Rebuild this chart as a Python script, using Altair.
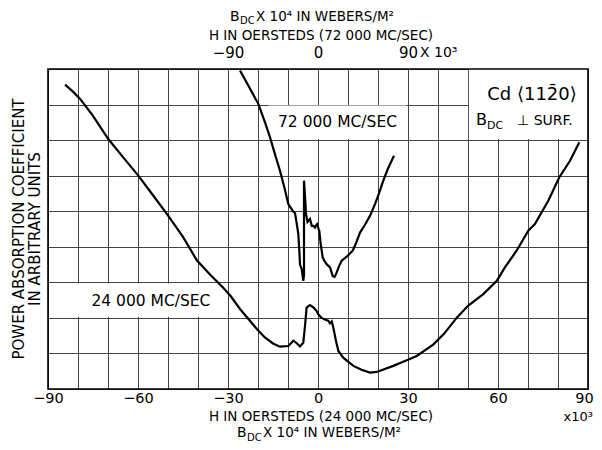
import altair as alt
import pandas as pd

FONT = "DejaVu Sans"

# 24 000 MC/SEC curve: H (10^3 oersteds, bottom scale) and absorption (grid units)
h24 = [-84.3, -81.5, -79.3, -75.0, -69.9, -65.0, -59.9, -55.0, -49.9, -45.0, -40.4, -36.0,
       -31.6, -29.0, -26.0, -22.7, -20.0, -17.7, -15.0, -12.7, -9.9, -8.2, -7.0, -6.0, -4.9,
       -4.3, -3.8, -2.7, -1.6, -0.5, 0.1, 1.2, 2.5, 3.4, 4.0, 4.6, 5.1, 6.0, 6.8, 8.4, 11.8,
       14.5, 17.3, 19.6, 25.1, 30.0, 32.9, 38.4, 42.0, 46.2, 50.0, 55.1, 59.6, 62.3, 66.2,
       70.1, 72.3, 76.8, 80.4, 84.0, 87.1]
p24 = [8.56, 8.35, 8.16, 7.68, 7.03, 6.52, 6.00, 5.45, 4.87, 4.28, 3.62, 3.22,
       2.85, 2.60, 2.25, 1.92, 1.65, 1.45, 1.28, 1.19, 1.21, 1.36, 1.28, 1.20, 1.30,
       1.80, 2.29, 2.36, 2.30, 2.20, 2.10, 2.00, 1.95, 1.92, 1.85, 1.90, 1.73, 1.35, 1.07, 0.88, 0.65,
       0.54, 0.46, 0.48, 0.65, 0.82, 0.93, 1.25, 1.55, 2.00, 2.34, 2.67, 3.04, 3.42, 3.89,
       4.45, 4.64, 5.30, 5.95, 6.42, 6.94]

# 72 000 MC/SEC curve: H (10^3 oersteds, top scale) and absorption (grid units)
h72 = [-78.0, -70.0, -59.7, -53.0, -48.0, -43.0, -38.0, -33.0, -29.7, -25.0, -23.0, -21.0,
       -19.7, -18.5, -18.0, -16.3, -14.7, -14.0, -14.0, -12.5, -12.0, -10.5, -9.7, -8.0, -6.3,
       -4.7, -3.0, -1.5, -0.7, 0.5, 1.3, 2.7, 4.7, 6.5, 8.7, 12.0, 14.7, 16.5, 18.0, 21.0,
       23.7, 28.7, 34.7, 38.0, 42.0, 47.0, 52.0, 57.0, 61.0, 65.3, 70.0, 76.0]
p72 = [8.96, 8.55, 8.02, 7.50, 7.08, 6.60, 6.14, 5.60, 5.20, 5.00, 4.95, 4.60,
       4.36, 3.80, 3.50, 3.37, 3.04, 3.20, 5.86, 5.20, 4.92, 4.70, 4.73, 4.78, 4.59,
       4.59, 4.54, 4.62, 4.64, 4.50, 4.45, 4.08, 3.70, 3.60, 3.51, 3.42, 3.18, 3.15, 3.23, 3.45,
       3.61, 3.72, 3.89, 4.10, 4.40, 4.62, 4.87, 5.20, 5.50, 5.86, 6.20, 6.56]

x_ticks = list(range(-90, 91, 10))
y_ticks = list(range(0, 10))
top_ticks = [-90, 0, 90]

# white label boxes (data units)
box_x1 = [-16.5, -87.0, 50.3]
box_x2 = [29.5, -32.0, 90.0]
box_y1 = [7.03, 2.03, 7.03]
box_y2 = [7.97, 2.97, 9.0]

W, H = 540, 320
xs = alt.Scale(domain=[-90, 90], nice=False, zero=False)
ys = alt.Scale(domain=[0, 9], nice=False, zero=False)

ax_x = alt.Axis(values=x_ticks, grid=True, gridColor="#444", gridWidth=1, gridOpacity=1,
                domain=False, ticks=False, tickSize=0, labelPadding=2,
                labelExpr="datum.value % 30 == 0 ? datum.label : ''",
                labelOffset={"condition": {"test": "datum.value == 90", "value": -4}, "value": 0},
                labelFont=FONT, labelFontSize=14.5, labelColor="black", labelFlush=False)
ax_y = alt.Axis(values=y_ticks, grid=True, gridColor="#444", gridWidth=1, gridOpacity=1,
                domain=False, ticks=False, labels=False, title=None)

df24 = pd.DataFrame({"h": h24, "p": p24, "i": list(range(len(h24)))})
df72 = pd.DataFrame({"h": h72, "p": p72, "i": list(range(len(h72)))})
dfbox = pd.DataFrame({"x1": box_x1, "x2": box_x2, "y1": box_y1, "y2": box_y2})

boxes = alt.Chart(dfbox).mark_rect(fill="white", stroke=None).encode(
    x=alt.X("x1:Q", scale=xs, axis=ax_x, title=None), x2="x2:Q",
    y=alt.Y("y1:Q", scale=ys, axis=ax_y, title=None), y2="y2:Q")


def dtxt(s, x, y, size=15.5):
    d = pd.DataFrame({"t": [s], "x": [x], "y": [y]})
    return alt.Chart(d).mark_text(font=FONT, fontSize=size, color="black",
                                  align="center", baseline="middle").encode(
        x=alt.X("x:Q", scale=xs, axis=ax_x, title=None),
        y=alt.Y("y:Q", scale=ys, axis=ax_y, title=None),
        text="t:N")


def ptxt(s, x, y, size=14, align="center", baseline="alphabetic", angle=0):
    d = pd.DataFrame({"t": [s]})
    m = dict(font=FONT, fontSize=size, color="black", align=align, baseline=baseline)
    if angle:
        m["angle"] = angle
    return alt.Chart(d).mark_text(**m).encode(
        x=alt.value(x), y=alt.value(y), text="t:N")


texts = [
    dtxt("72 000 MC/SEC", 6.5, 7.5),
    dtxt("24 000 MC/SEC", -55.7, 2.48),
    # Cd box
    ptxt("Cd  \u27e8112\u03040\u27e9", 484, 31, size=18),
    ptxt("B", 428, 56, size=16, align="left"),
    ptxt("DC", 439, 59.5, size=11, align="left"),
    ptxt("\u22a5 SURF.", 469, 56, size=14, align="left"),
    # top titles
    ptxt("B", 182, -48, size=14, align="left"),
    ptxt("DC", 192, -45, size=10, align="left"),
    ptxt("X 10\u2074 IN WEBERS/M\u00b2", 208, -48, size=13.5, align="left"),
    ptxt("H IN OERSTEDS  (72 000 MC/SEC)", 273, -29, size=13.5),
    ptxt("X 10\u00b3", 372, -12, size=14, align="left"),
    # bottom titles
    ptxt("H IN OERSTEDS  (24 000 MC/SEC)", 273, 352, size=13.5),
    ptxt("B", 189, 368, size=14, align="left"),
    ptxt("DC", 199, 371.5, size=10, align="left"),
    ptxt("X 10\u2074 IN WEBERS/M\u00b2", 215, 368, size=13.5, align="left"),
    ptxt("x10\u00b3", 545, 352, size=13, align="right"),
    # y title
    ptxt("POWER ABSORPTION COEFFICIENT", -29, 160, size=15, baseline="middle", angle=270),
    ptxt("IN ARBITRARY UNITS", -13, 160, size=15, baseline="middle", angle=270),
]

curve24 = alt.Chart(df24).mark_line(color="black", strokeWidth=2.2).encode(
    x=alt.X("h:Q", scale=xs, axis=ax_x, title=None),
    y=alt.Y("p:Q", scale=ys, axis=ax_y, title=None),
    order="i:Q")

frame = alt.Chart(pd.DataFrame({"a": [0]})).mark_rect(
    filled=False, stroke="black", strokeWidth=1.6).encode(
    x=alt.value(0), x2=alt.value(W), y=alt.value(0), y2=alt.value(H))

bottom = alt.layer(boxes, *texts, curve24, frame)

curve72 = alt.Chart(df72).mark_line(color="black", strokeWidth=2.2).encode(
    x=alt.X("h:Q", scale=alt.Scale(domain=[-270, 270], nice=False, zero=False),
            axis=alt.Axis(orient="top", values=top_ticks, grid=False, domain=False,
                          ticks=False, tickSize=0, labelPadding=9, labelFont=FONT,
                          labelFontSize=15, labelColor="black", labelFlush=False),
            title=None),
    y=alt.Y("p:Q", scale=ys, axis=ax_y, title=None),
    order="i:Q")

chart = alt.layer(bottom, curve72).resolve_scale(x="independent").properties(
    width=W, height=H, autosize=alt.AutoSizeParams(type="none"),
    padding={"left": 40, "top": 61, "right": 6, "bottom": 53},
    background="white",
).configure_view(stroke=None)

chart.save("out.html", embed_options={"renderer": "svg", "actions": False})
